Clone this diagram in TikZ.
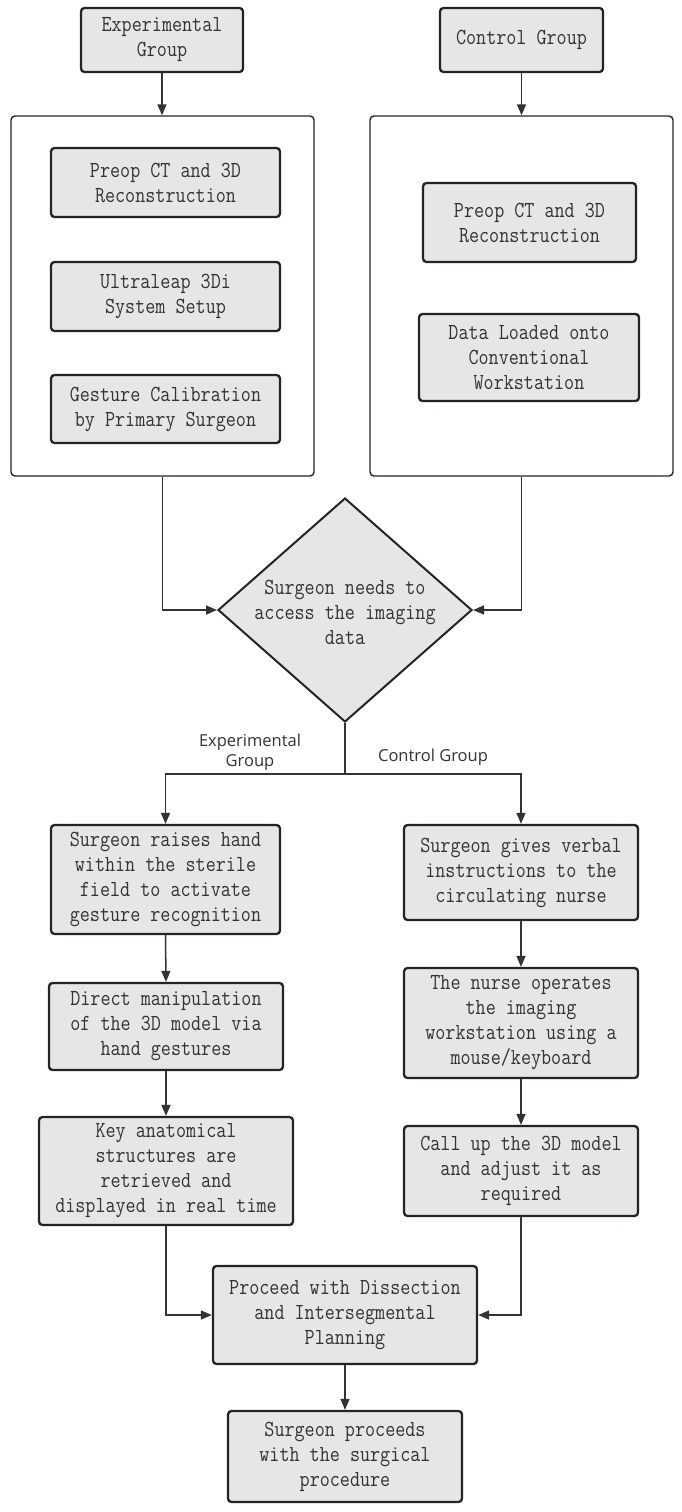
\documentclass[tikz,border=0pt]{standalone}
\usepackage{fontspec}
\usetikzlibrary{arrows.meta,shapes.geometric}
\newfontfamily\boxfont{Latin Modern Mono}[FakeStretch=0.85]
\newfontfamily\labfont{Open Sans}
\definecolor{boxfill}{HTML}{E6E6E6}
\definecolor{boxline}{HTML}{1F262B}
\definecolor{ink}{HTML}{333333}
\tikzset{
  stepbox/.style={draw=boxline, line width=2.3pt, fill=boxfill, rounded corners=3.5pt,
    inner sep=0pt, align=center, text=ink, font=\boxfont\fontsize{23}{25}\selectfont},
  container/.style={draw=boxline, line width=1.4pt, fill=white, rounded corners=4pt, inner sep=0pt},
  decision/.style={diamond, draw=boxline, line width=2pt, fill=boxfill, inner sep=0pt},
  plaintext/.style={align=center, text=ink, font=\boxfont\fontsize{23}{25}\selectfont},
  edgelabel/.style={align=center, text=ink, font=\labfont\fontsize{16.5}{20}\selectfont},
  conn/.style={draw=ink, line width=1.5pt, -{Triangle[length=11pt,width=9pt]}},
  plainconn/.style={draw=ink, line width=1.5pt}
}
\begin{document}
\begin{tikzpicture}[x=1pt,y=-1pt]
\useasboundingbox (0,0) rectangle (682,1512);
% top group boxes
\node[stepbox, minimum width=162pt, minimum height=64pt] (exp) at (162,40) {Experimental\\Group};
\node[stepbox, minimum width=163pt, minimum height=64pt] (ctl) at (521.5,40) {Control Group};
% containers
\node[container, minimum width=303pt, minimum height=360pt] (contL) at (162.5,296) {};
\node[container, minimum width=303pt, minimum height=360pt] (contR) at (521.5,296) {};
% left inner boxes
\node[stepbox, minimum width=229pt, minimum height=69pt] (l1) at (165.5,182.5) {Preop CT and 3D\\Reconstruction};
\node[stepbox, minimum width=229pt, minimum height=69pt] (l2) at (165.5,296.5) {Ultraleap 3Di\\System Setup};
\node[stepbox, minimum width=229pt, minimum height=68pt] (l3) at (165.5,409) {Gesture Calibration\\by Primary Surgeon};
% right inner boxes
\node[stepbox, minimum width=213pt, minimum height=79pt] (r1) at (529.5,222.5) {Preop CT and 3D\\Reconstruction};
\node[stepbox, minimum width=220pt, minimum height=87pt] (r2) at (529,357.5) {Data Loaded onto\\Conventional\\Workstation};
% decision
\node[decision, minimum width=254pt, minimum height=224pt] (dia) at (345,610) {};
\node[plaintext] (diatext) at (345,612) {Surgeon needs to\\access the imaging\\data};
% experimental branch
\node[stepbox, minimum width=229pt, minimum height=109pt] (a) at (165.5,879.5) {Surgeon raises hand\\within the sterile\\field to activate\\gesture recognition};
\node[stepbox, minimum width=234pt, minimum height=87pt] (b) at (166,1026.5) {Direct manipulation\\of the 3D model via\\hand gestures};
\node[stepbox, minimum width=254pt, minimum height=108pt] (c) at (166,1171) {Key anatomical\\structures are\\retrieved and\\displayed in real time};
% control branch
\node[stepbox, minimum width=234pt, minimum height=95pt] (d) at (521,872.5) {Surgeon gives verbal\\instructions to the\\circulating nurse};
\node[stepbox, minimum width=234pt, minimum height=110pt] (e) at (521,1023) {The nurse operates\\the imaging\\workstation using a\\mouse/keyboard};
\node[stepbox, minimum width=234pt, minimum height=90pt] (f) at (521,1171) {Call up the 3D model\\and adjust it as\\required};
% merge
\node[stepbox, minimum width=264pt, minimum height=98pt] (g) at (345,1315) {Proceed with Dissection\\and Intersegmental\\Planning};
\node[stepbox, minimum width=234pt, minimum height=91pt] (h) at (345,1456.5) {Surgeon proceeds\\with the surgical\\procedure};
% edge labels
\node[edgelabel] (labexp) at (250,752) {Experimental\\Group};
\node[edgelabel] (labctl) at (433,757) {Control Group};
% connectors
\draw[conn] (exp.south) -- (exp.south |- contL.north);
\draw[conn] (ctl.south) -- (ctl.south |- contR.north);
\draw[conn] (contL.south) |- (dia.west);
\draw[conn] (contR.south) |- (dia.east);
\coordinate (split) at (345,774);
\draw[plainconn] (dia.south) -- (split);
\draw[conn] (split) -| (a.north);
\draw[conn] (split) -| (d.north);
\draw[conn] (a.south) -- (b.north);
\draw[conn] (b.south) -- (c.north);
\draw[conn] (d.south) -- (e.north);
\draw[conn] (e.south) -- (f.north);
\draw[conn] (c.south) |- (g.west);
\draw[conn] (f.south) |- (g.east);
\draw[conn] (g.south) -- (h.north);
\end{tikzpicture}
\end{document}
